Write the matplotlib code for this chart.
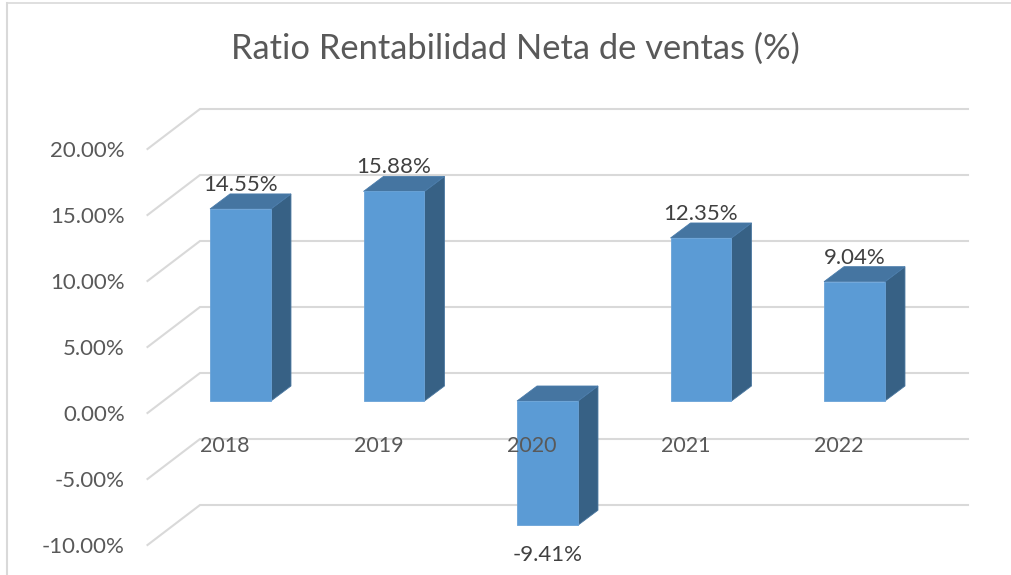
import matplotlib.pyplot as plt
from matplotlib.patches import Polygon

plt.rcParams['font.family'] = ['Lato', 'DejaVu Sans']

years = ['2018', '2019', '2020', '2021', '2022']
values = [14.55, 15.88, -9.41, 12.35, 9.04]
ticks = [-10, -5, 0, 5, 10, 15, 20]
tick_labels = ['-10.00%', '-5.00%', '0.00%', '5.00%', '10.00%', '15.00%', '20.00%']

# pixel sizes of the picture, one axes fills the whole figure
W, H = 1012, 575
x_step = 153.5
y_step = 13.2
x0 = 240.5
y0 = 401

fig = plt.figure(figsize=(W / 100, H / 100), dpi=100)
ax = fig.add_axes([0, 0, 1, 1])
ax.set_xlim(-x0 / x_step, (W - x0) / x_step)
ax.set_ylim((y0 - H) / y_step, y0 / y_step)
ax.axis('off')

def px_x(p):
    return p / x_step

def px_y(p):
    return p / y_step

bar_w = 0.397
dx = px_x(20)
dy = px_y(15)
wall_dy = px_y(28)   # back wall is above the bar base
front_dy = px_y(12)  # tick ends are below the bar base
left = (147.5 - x0) / x_step
corner = (200 - x0) / x_step
right = (968 - x0) / x_step

for t, lab in zip(ticks, tick_labels):
    ax.plot([left, corner, right], [t - front_dy, t + wall_dy, t + wall_dy],
            color='#d9d9d9', lw=1.5, solid_joinstyle='miter', zorder=1)
    ax.text(px_x(125 - x0), t - front_dy - px_y(2), lab, ha='right', va='center',
            fontsize=16, color='#595959', zorder=5)

for i, v in enumerate(values):
    l = i - bar_w / 2
    r = i + bar_w / 2
    top = max(v, 0)
    bot = min(v, 0)
    ax.add_patch(Polygon([(r, bot), (r + dx, bot + dy), (r + dx, top + dy), (r, top)],
                         fc='#376185', ec='#4a77a0', lw=0.6, zorder=2))
    ax.add_patch(Polygon([(l, top), (l + dx, top + dy), (r + dx, top + dy), (r, top)],
                         fc='#4575a1', ec='#4a7cab', lw=0.6, zorder=2))
    ax.add_patch(Polygon([(l, bot), (r, bot), (r, top), (l, top)],
                         fc='#5b9bd5', ec='#6aa3d8', lw=0.6, zorder=3))
    off = 24 if v > 0 else -30
    ax.annotate(f'{v:.2f}%', (i, v), xytext=(0, off), textcoords='offset pixels',
                ha='center', va='center', fontsize=16, color='#404040', zorder=5)
    ax.annotate(years[i], (i, 0), xytext=(-15.5, -45), textcoords='offset pixels',
                ha='center', va='center', fontsize=15.5, color='#595959', zorder=5)

fig.text(515 / W, 1 - 49 / H, 'Ratio Rentabilidad Neta de ventas (%)', ha='center',
         va='center', fontsize=24.8, color='#595959')

# chart frame, only top and left show
fig.add_artist(plt.Line2D([7 / W, 7 / W], [0, 1 - 3 / H], color='#d9d9d9', lw=1.5))
fig.add_artist(plt.Line2D([7 / W, 1], [1 - 3 / H, 1 - 3 / H], color='#d9d9d9', lw=1.2))

fig.savefig('out.png', dpi=100)
